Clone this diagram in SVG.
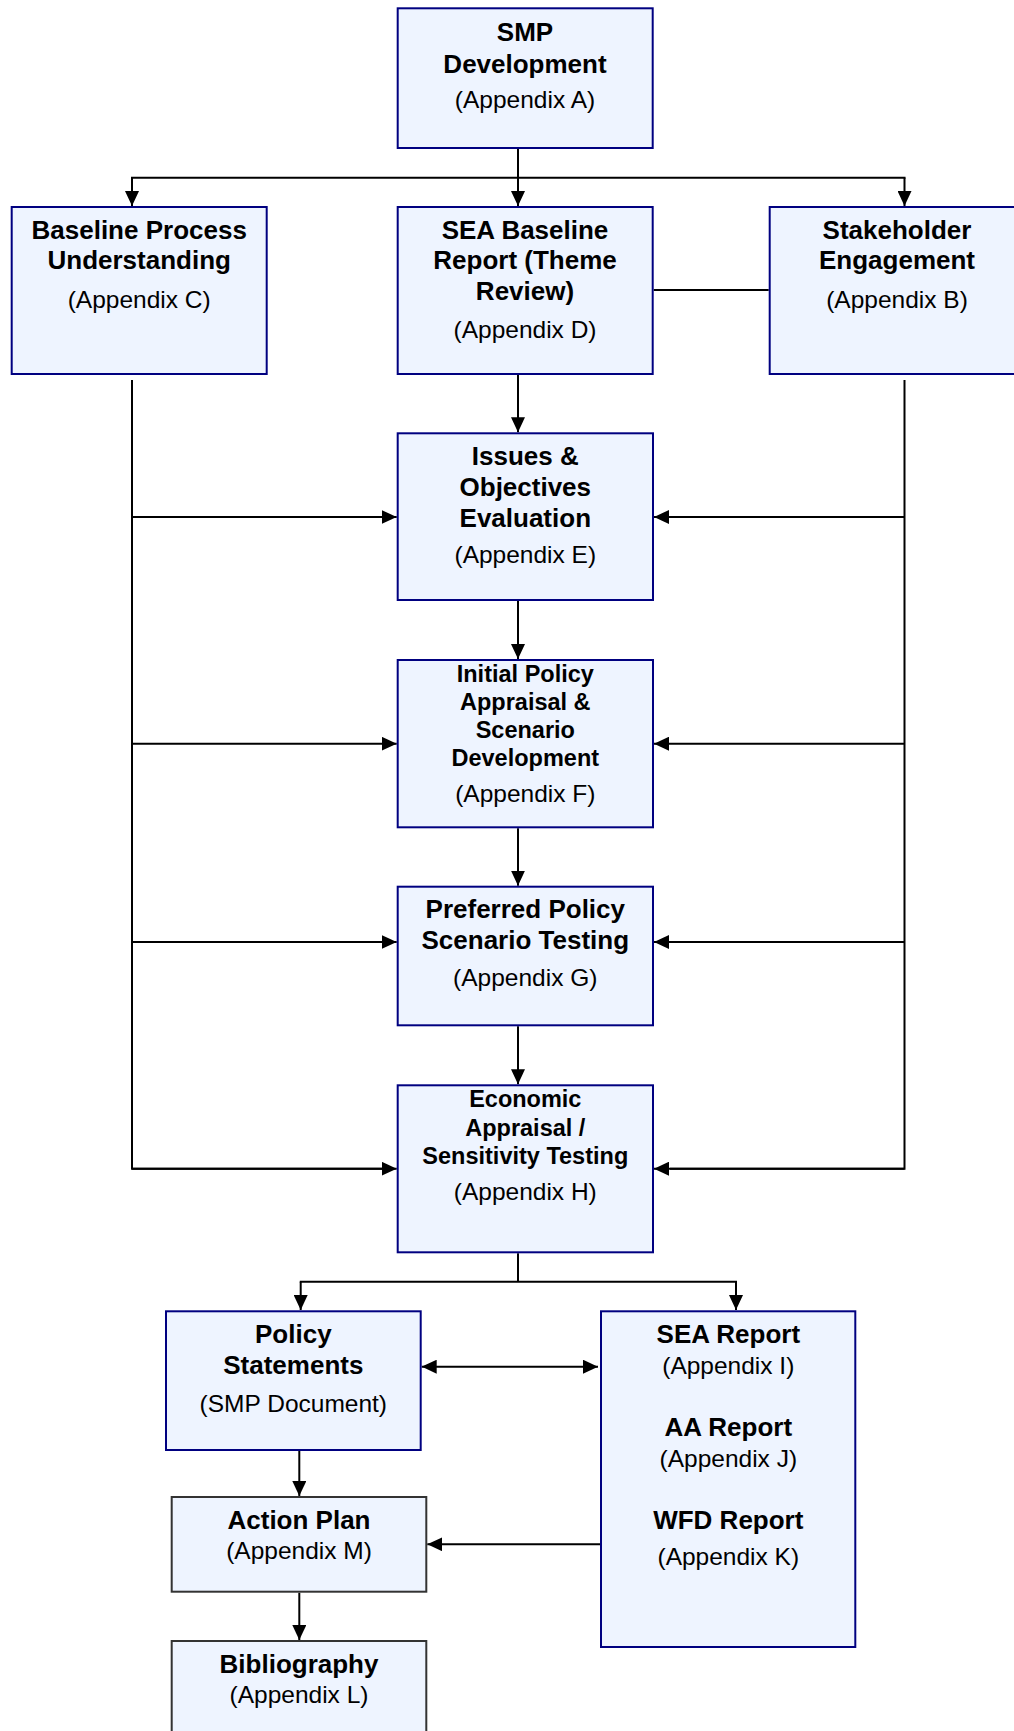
<svg xmlns="http://www.w3.org/2000/svg" width="1014" height="1731" viewBox="0 0 1014 1731">
<style>
.box{fill:#EEF4FF;stroke:#000080;stroke-width:2}
.box2{fill:#EEF4FF;stroke:#333333;stroke-width:2}
.b{font-family:"Liberation Sans",Arial,sans-serif;font-weight:bold;font-size:26px;fill:#000;text-anchor:middle}
.bs{font-family:"Liberation Sans",Arial,sans-serif;font-weight:bold;font-size:23.5px;fill:#000;text-anchor:middle}
.r{font-family:"Liberation Sans",Arial,sans-serif;font-size:24.5px;fill:#000;text-anchor:middle}
.c{fill:none;stroke:#000;stroke-width:2}
.a{fill:none;stroke:#000;stroke-width:2;marker-end:url(#ah)}
</style>
<defs>
<marker id="ah" viewBox="0 0 15 14" refX="15" refY="7" markerUnits="userSpaceOnUse" markerWidth="15" markerHeight="14" orient="auto-start-reverse">
<path d="M0,0 L15,7 L0,14 z" fill="#000"/>
</marker>
</defs>
<g id="connectors">
<line class="c" x1="518" y1="149" x2="518" y2="177.7"/>
<line class="c" x1="131" y1="177.7" x2="905.5" y2="177.7"/>
<line class="a" x1="132" y1="177.7" x2="132" y2="206"/>
<line class="a" x1="518" y1="177.7" x2="518" y2="206"/>
<line class="a" x1="904.5" y1="177.7" x2="904.5" y2="206"/>
<line class="c" x1="653.7" y1="290" x2="768.7" y2="290"/>
<line class="a" x1="518" y1="375" x2="518" y2="432.3"/>
<polyline class="c" points="132,380 132,1168.7 382,1168.7"/>
<line class="a" x1="132" y1="1168.7" x2="396.7" y2="1168.7"/>
<line class="a" x1="132" y1="517" x2="396.7" y2="517"/>
<line class="a" x1="132" y1="743.7" x2="396.7" y2="743.7"/>
<line class="a" x1="132" y1="942" x2="396.7" y2="942"/>
<polyline class="c" points="904.5,380 904.5,1168.7 670,1168.7"/>
<line class="a" x1="904.5" y1="1168.7" x2="654" y2="1168.7"/>
<line class="a" x1="904.5" y1="517" x2="654" y2="517"/>
<line class="a" x1="904.5" y1="743.7" x2="654" y2="743.7"/>
<line class="a" x1="904.5" y1="942" x2="654" y2="942"/>
<line class="a" x1="518" y1="601" x2="518" y2="659"/>
<line class="a" x1="518" y1="828.3" x2="518" y2="885.7"/>
<line class="a" x1="518" y1="1026.3" x2="518" y2="1084.3"/>
<line class="c" x1="518" y1="1253.3" x2="518" y2="1281.7"/>
<line class="c" x1="299.8" y1="1281.7" x2="737" y2="1281.7"/>
<line class="a" x1="300.7" y1="1281.7" x2="300.7" y2="1310"/>
<line class="a" x1="736" y1="1281.7" x2="736" y2="1310"/>
<line class="a" x1="421.7" y1="1366.7" x2="598" y2="1366.7" marker-start="url(#ah)"/>
<line class="a" x1="299.3" y1="1448" x2="299.3" y2="1496"/>
<line class="a" x1="604" y1="1544.3" x2="427.3" y2="1544.3"/>
<line class="a" x1="299.3" y1="1592.7" x2="299.3" y2="1640"/>
</g>
<g id="smp">
<rect class="box" x="397.7" y="8.3" width="255" height="139.7"/>
<text class="b" x="525" y="40.7">SMP</text>
<text class="b" x="525" y="72.7">Development</text>
<text class="r" x="525" y="108">(Appendix A)</text>
</g>
<g id="baseline">
<rect class="box" x="11.7" y="207" width="255" height="167"/>
<text class="b" x="139.2" y="239">Baseline Process</text>
<text class="b" x="139.2" y="269">Understanding</text>
<text class="r" x="139.2" y="308">(Appendix C)</text>
</g>
<g id="sea-baseline">
<rect class="box" x="397.7" y="207" width="255" height="167"/>
<text class="b" x="525" y="239">SEA Baseline</text>
<text class="b" x="525" y="269">Report (Theme</text>
<text class="b" x="525" y="300">Review)</text>
<text class="r" x="525" y="338">(Appendix D)</text>
</g>
<g id="stakeholder">
<rect class="box" x="769.7" y="207" width="255" height="167"/>
<text class="b" x="897" y="239">Stakeholder</text>
<text class="b" x="897" y="269">Engagement</text>
<text class="r" x="897" y="308">(Appendix B)</text>
</g>
<g id="issues">
<rect class="box" x="397.7" y="433.3" width="255.3" height="166.7"/>
<text class="b" x="525.3" y="465">Issues &amp;</text>
<text class="b" x="525.3" y="496">Objectives</text>
<text class="b" x="525.3" y="526.7">Evaluation</text>
<text class="r" x="525.3" y="563">(Appendix E)</text>
</g>
<g id="initial">
<rect class="box" x="397.7" y="660" width="255.3" height="167.3"/>
<text class="bs" x="525.3" y="681.7">Initial Policy</text>
<text class="bs" x="525.3" y="709.5">Appraisal &amp;</text>
<text class="bs" x="525.3" y="737.7">Scenario</text>
<text class="bs" x="525.3" y="765.7">Development</text>
<text class="r" x="525.3" y="801.7">(Appendix F)</text>
</g>
<g id="preferred">
<rect class="box" x="397.7" y="886.7" width="255.3" height="138.6"/>
<text class="b" x="525.3" y="918.3">Preferred Policy</text>
<text class="b" x="525.3" y="949.3">Scenario Testing</text>
<text class="r" x="525.3" y="985.7">(Appendix G)</text>
</g>
<g id="economic">
<rect class="box" x="397.7" y="1085.3" width="255.3" height="167"/>
<text class="bs" x="525.3" y="1107.3">Economic</text>
<text class="bs" x="525.3" y="1136">Appraisal /</text>
<text class="bs" x="525.3" y="1164.3">Sensitivity Testing</text>
<text class="r" x="525.3" y="1200">(Appendix H)</text>
</g>
<g id="policy">
<rect class="box" x="166" y="1311.3" width="254.7" height="138.7"/>
<text class="b" x="293.3" y="1342.7">Policy</text>
<text class="b" x="293.3" y="1374.3">Statements</text>
<text class="r" x="293.3" y="1411.7">(SMP Document)</text>
</g>
<g id="sea-report">
<rect class="box" x="601" y="1311.3" width="254.3" height="335.7"/>
<text class="b" x="728.3" y="1342.7">SEA Report</text>
<text class="r" x="728.3" y="1374">(Appendix I)</text>
<text class="b" x="728.3" y="1436">AA Report</text>
<text class="r" x="728.3" y="1466.7">(Appendix J)</text>
<text class="b" x="728.3" y="1529.3">WFD Report</text>
<text class="r" x="728.3" y="1565">(Appendix K)</text>
</g>
<g id="action-plan">
<rect class="box2" x="171.7" y="1497" width="254.6" height="94.7"/>
<text class="b" x="299" y="1529.3">Action Plan</text>
<text class="r" x="299" y="1559.3">(Appendix M)</text>
</g>
<g id="bibliography">
<rect class="box2" x="171.7" y="1641" width="254.6" height="120"/>
<text class="b" x="299" y="1672.7">Bibliography</text>
<text class="r" x="299" y="1703.3">(Appendix L)</text>
</g>
</svg>
